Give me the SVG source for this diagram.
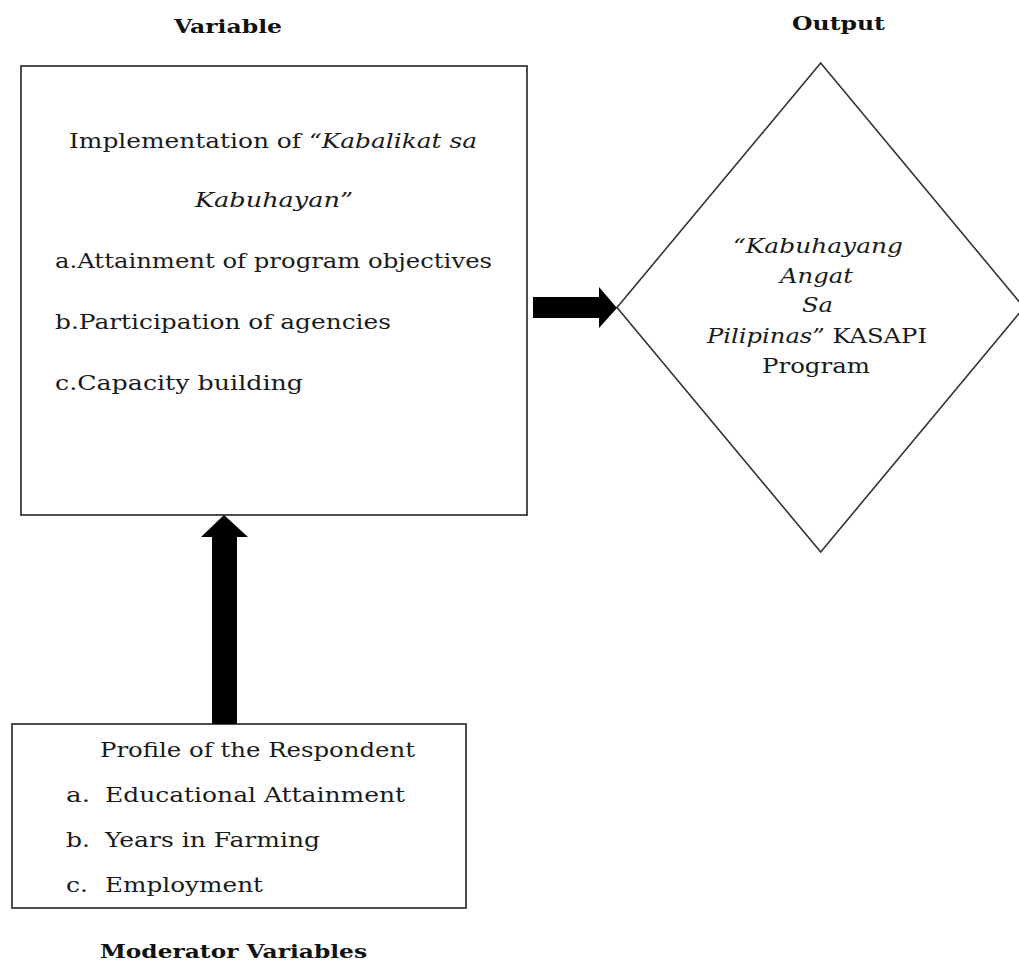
<svg xmlns="http://www.w3.org/2000/svg" width="1019" height="972" viewBox="0 0 1019 972">
<style>
.t{font-family:"DejaVu Serif","Liberation Serif",serif;font-size:20px;fill:#1a1a1a}
.h{font-family:"DejaVu Serif","Liberation Serif",serif;font-size:19px;font-weight:bold;fill:#111}
.i{font-style:italic}
.box{fill:#fff;stroke:#222;stroke-width:1.6}
.dia{fill:#fff;stroke:#333;stroke-width:1.6}
.arr{fill:#000}
</style>
<rect width="1019" height="972" fill="#fff"/>
<text class="h" x="174" y="33" textLength="108" lengthAdjust="spacingAndGlyphs">Variable</text>
<text class="h" x="792" y="30" textLength="93" lengthAdjust="spacingAndGlyphs">Output</text>
<text class="h" x="100" y="958" textLength="267" lengthAdjust="spacingAndGlyphs">Moderator Variables</text>
<g id="variable">
<rect class="box" x="21" y="66" width="506" height="449"/>
<text class="t" x="69" y="148" textLength="408" lengthAdjust="spacingAndGlyphs">Implementation of <tspan class="i">“Kabalikat sa</tspan></text>
<text class="t i" x="195" y="207" textLength="158" lengthAdjust="spacingAndGlyphs">Kabuhayan”</text>
<text class="t" x="55" y="268" textLength="437" lengthAdjust="spacingAndGlyphs">a.Attainment of program objectives</text>
<text class="t" x="55" y="329" textLength="336" lengthAdjust="spacingAndGlyphs">b.Participation of agencies</text>
<text class="t" x="55" y="390" textLength="248" lengthAdjust="spacingAndGlyphs">c.Capacity building</text>
</g>
<g id="output">
<polygon class="dia" points="820.7,63 1024,307.5 820.7,552 617,307.5"/>
<text class="t i" x="733" y="253" textLength="170" lengthAdjust="spacingAndGlyphs">“Kabuhayang</text>
<text class="t i" x="780" y="283" textLength="73" lengthAdjust="spacingAndGlyphs">Angat</text>
<text class="t i" x="802" y="312" textLength="31" lengthAdjust="spacingAndGlyphs">Sa</text>
<text class="t" x="707" y="343" textLength="220" lengthAdjust="spacingAndGlyphs"><tspan class="i">Pilipinas”</tspan> KASAPI</text>
<text class="t" x="762" y="373" textLength="108" lengthAdjust="spacingAndGlyphs">Program</text>
</g>
<g id="moderator">
<rect class="box" x="12" y="724" width="454" height="184"/>
<text class="t" x="100" y="757" textLength="315" lengthAdjust="spacingAndGlyphs">Profile of the Respondent</text>
<text class="t" x="66" y="802" textLength="24" lengthAdjust="spacingAndGlyphs">a.</text>
<text class="t" x="105" y="802" textLength="300" lengthAdjust="spacingAndGlyphs">Educational Attainment</text>
<text class="t" x="66" y="847" textLength="24" lengthAdjust="spacingAndGlyphs">b.</text>
<text class="t" x="105" y="847" textLength="215" lengthAdjust="spacingAndGlyphs">Years in Farming</text>
<text class="t" x="66" y="892" textLength="22" lengthAdjust="spacingAndGlyphs">c.</text>
<text class="t" x="105" y="892" textLength="158" lengthAdjust="spacingAndGlyphs">Employment</text>
</g>
<g id="connectors">
<polygon class="arr" points="533,297 599,297 599,287 617,308 599,328 599,318 533,318"/>
<polygon class="arr" points="224,515 248,537 237,537 237,724 212,724 212,537 201,537"/>
</g>
</svg>
